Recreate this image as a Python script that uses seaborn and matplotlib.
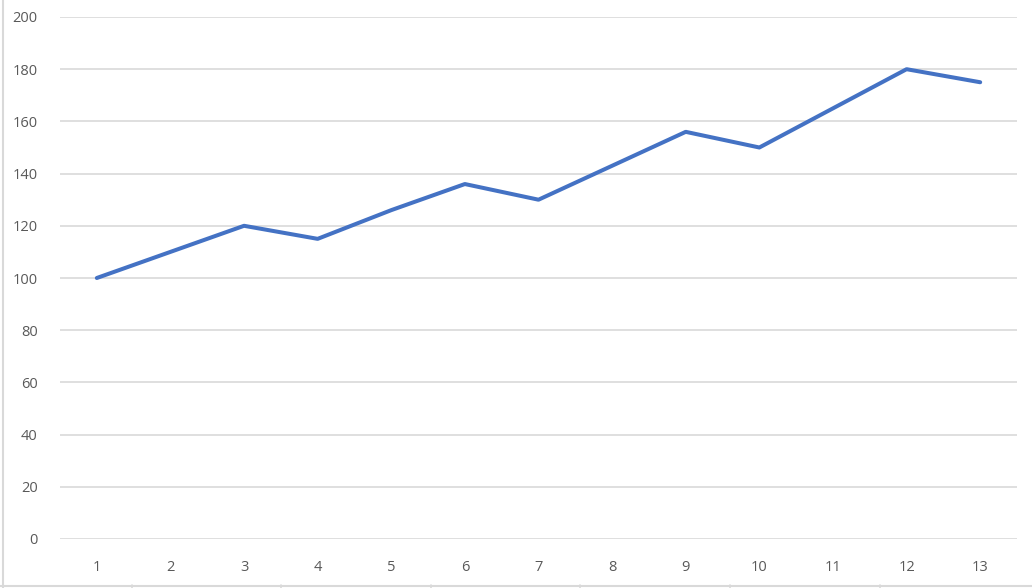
import numpy as np
import pandas as pd
import matplotlib
matplotlib.use("Agg")
import matplotlib.pyplot as plt
import seaborn as sns
from matplotlib.lines import Line2D

categories = ["1", "2", "3", "4", "5", "6", "7", "8", "9", "10", "11", "12", "13"]
values = [100, 110, 120, 115, 126, 136, 130, 143, 156, 150, 165, 180, 175]
y_ticks = [0, 20, 40, 60, 80, 100, 120, 140, 160, 180, 200]

sns.set_style("white")
plt.rcParams["font.family"] = ["Open Sans", "DejaVu Sans"]

W, H = 1032, 588
fig = plt.figure(figsize=(W / 100, H / 100), dpi=100)
ax = fig.add_axes([60 / W, (H - 539) / H, (1017 - 60) / W, (539 - 17) / H])

df = pd.DataFrame({"pos": np.arange(len(categories)), "value": values})
sns.lineplot(data=df, x="pos", y="value", ax=ax, color="#4472C4", linewidth=2.9,
             solid_capstyle="round", solid_joinstyle="round")

ax.set_xlim(-0.5, len(categories) - 0.5)
ax.set_ylim(0, 200)
ax.set_yticks(y_ticks)
ax.set_yticklabels([str(t) for t in y_ticks])
ax.set_xticks(np.arange(len(categories)))
ax.set_xticklabels(categories)
ax.grid(axis="y", color="#D9D9D9", linewidth=1.2)
ax.grid(axis="x", visible=False)
for s in ax.spines.values():
    s.set_visible(False)
ax.tick_params(axis="both", length=0, labelsize=10.5, colors="#595959")
ax.tick_params(axis="y", pad=16)
ax.tick_params(axis="x", pad=15)
ax.set_xlabel("")
ax.set_ylabel("")

# chart frame (left and bottom edges) with sheet-cell stubs
frame_col = "#D9D9D9"
fig.add_artist(Line2D([2.5 / W, 2.5 / W], [0, 1], transform=fig.transFigure, color=frame_col, lw=1.5))
fig.add_artist(Line2D([0, 1], [(H - 585.5) / H, (H - 585.5) / H], transform=fig.transFigure, color=frame_col, lw=1.5))
for xs in [132, 281, 431, 580, 730, 880]:
    fig.add_artist(Line2D([xs / W, xs / W], [0, 3 / H], transform=fig.transFigure, color=frame_col, lw=1.2))

fig.savefig("out.png", dpi=100, facecolor="white")
